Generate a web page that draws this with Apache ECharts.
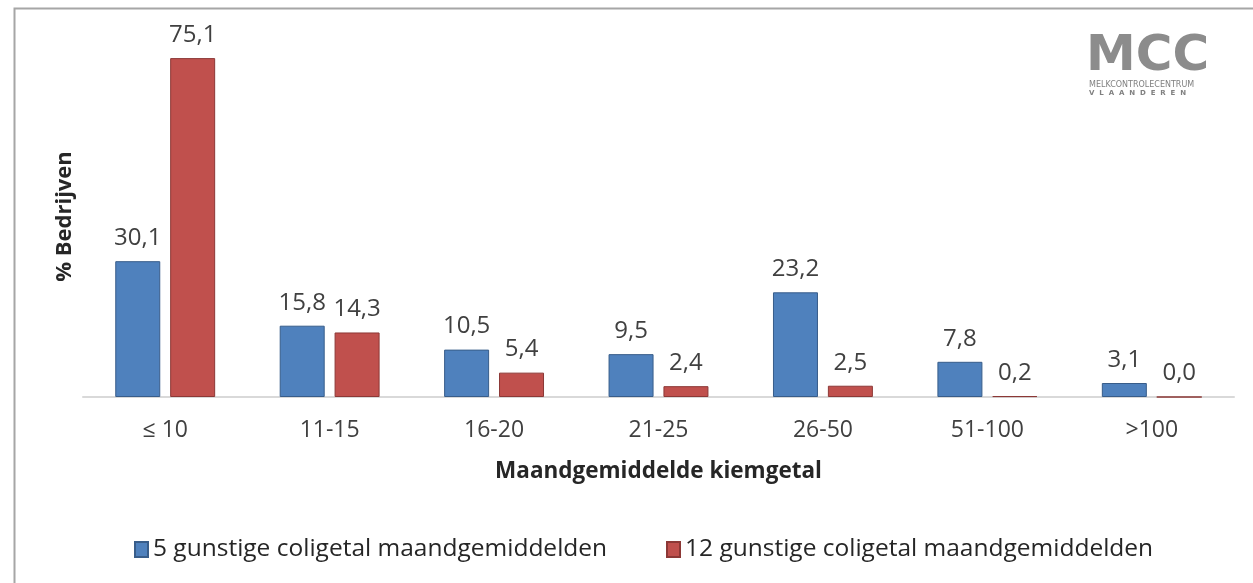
<!DOCTYPE html>
<html>
<head>
<meta charset="utf-8">
<script src="https://cdn.jsdelivr.net/npm/echarts@6/dist/echarts.min.js"></script>
<style>
  html, body { margin: 0; padding: 0; background: #fff; }
  #chart { width: 1253px; height: 583px; }
</style>
</head>
<body>
<div id="chart"></div>
<script>
// data
const categories = ['≤ 10', '11-15', '16-20', '21-25', '26-50', '51-100', '>100']
const series5 = [30.1, 15.8, 10.5, 9.5, 23.2, 7.8, 3.1]
const series12 = [75.1, 14.3, 5.4, 2.4, 2.5, 0.2, 0.0]
const seriesNames = ['5 gunstige coligetal maandgemiddelden', '12 gunstige coligetal maandgemiddelden']

const font = 'Open Sans'
const fmt = p => p.value.toFixed(1).replace('.', ',')

const chart = echarts.init(document.getElementById('chart'))
const option = {
  animation: false,
  textStyle: { fontFamily: font },
  grid: { left: 83, right: 19, top: 36, bottom: 186 },
  legend: [
    {
      data: [seriesNames[0]], left: 129, top: 532,
      itemWidth: 13, itemHeight: 15, icon: 'rect', itemGap: 5,
      textStyle: { fontSize: 24.5, color: '#262626', fontFamily: font }
    },
    {
      data: [seriesNames[1]], left: 661, top: 532,
      itemWidth: 13, itemHeight: 15, icon: 'rect', itemGap: 5,
      textStyle: { fontSize: 24.5, color: '#262626', fontFamily: font }
    }
  ],
  xAxis: {
    type: 'category',
    data: categories,
    name: 'Maandgemiddelde kiemgetal',
    nameLocation: 'middle',
    nameGap: 63,
    nameTextStyle: { fontSize: 22.5, fontWeight: 'bold', color: '#262626' },
    axisLine: { lineStyle: { color: '#d9d9d9', width: 2 } },
    axisTick: { show: false },
    axisLabel: { fontSize: 23, color: '#404040', margin: 22 }
  },
  yAxis: {
    type: 'value',
    min: 0,
    max: 80,
    name: '% Bedrijven',
    nameLocation: 'middle',
    nameGap: 7,
    nameTextStyle: { fontSize: 22, fontWeight: 'bold', color: '#262626' },
    axisLine: { show: false },
    axisTick: { show: false },
    axisLabel: { show: false },
    splitLine: { show: false }
  },
  series: [
    {
      name: seriesNames[0],
      type: 'bar',
      data: series5,
      barWidth: 45,
      barGap: '22%',
      itemStyle: { color: '#4f81bd', borderColor: '#385d8a', borderWidth: 1 },
      label: { show: true, position: 'top', distance: 11, fontSize: 24, color: '#404040', formatter: fmt }
    },
    {
      name: seriesNames[1],
      type: 'bar',
      data: series12,
      barWidth: 45,
      barGap: '22%',
      itemStyle: { color: '#c0504d', borderColor: '#8c3836', borderWidth: 1 },
      label: { show: true, position: 'top', distance: 11, fontSize: 24, color: '#404040', formatter: fmt }
    }
  ],
  graphic: [
    // outer frame
    {
      type: 'rect', left: 12, top: 6, silent: true,
      shape: { width: 1300, height: 700 },
      style: { fill: 'none', stroke: '#a6a6a6', lineWidth: 2 }
    },
    // MCC logo
    {
      type: 'text', left: 1086, top: 32,
      style: { text: 'MCC', fontSize: 50, fontWeight: 'bold', fontFamily: 'DejaVu Sans', fill: '#8c8c8c' }
    },
    {
      type: 'text', left: 1089, top: 81,
      style: { text: 'MELKCONTROLECENTRUM', fontSize: 8, fontFamily: 'DejaVu Sans', fill: '#808080' }
    },
    {
      type: 'text', left: 1089, top: 90,
      style: { text: 'V  L  A  A  N  D  E  R  E  N', fontSize: 7, fontWeight: 'bold', fontFamily: 'DejaVu Sans', fill: '#808080' }
    }
  ]
}
chart.setOption(option)
</script>
</body>
</html>
